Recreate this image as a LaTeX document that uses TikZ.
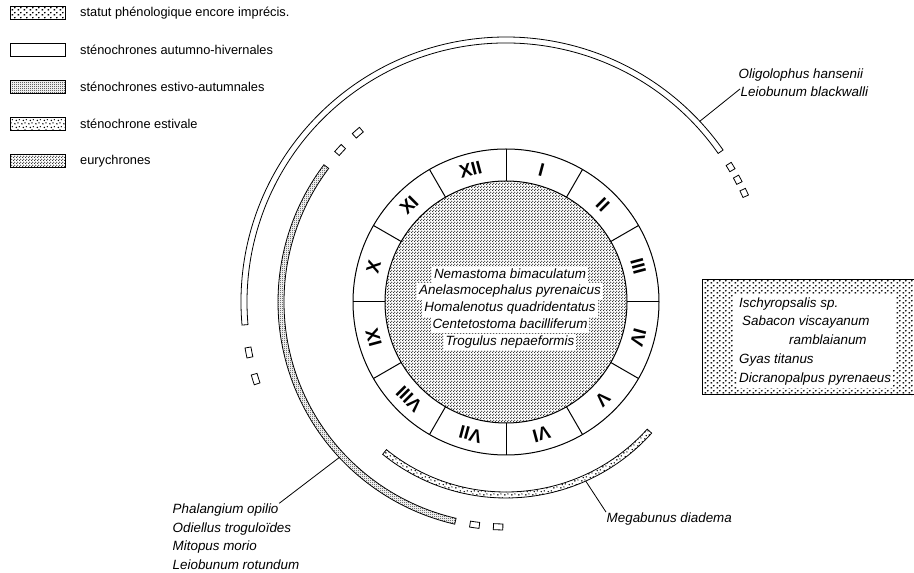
\documentclass[tikz,border=0pt]{standalone}
\usepackage{fontspec}
\setmainfont{Liberation Sans}
\usetikzlibrary{patterns}

\pgfdeclarepatternformonly{eurydots}{\pgfpointorigin}{\pgfpoint{2.6pt}{2.6pt}}{\pgfpoint{2.6pt}{2.6pt}}{%
  \pgfpathcircle{\pgfpoint{0.65pt}{0.65pt}}{0.72pt}%
  \pgfpathcircle{\pgfpoint{1.95pt}{1.95pt}}{0.72pt}%
  \pgfusepath{fill}}
\pgfdeclarepatternformonly{densedots}{\pgfpointorigin}{\pgfpoint{2pt}{2pt}}{\pgfpoint{2pt}{2pt}}{%
  \pgfpathcircle{\pgfpoint{0.5pt}{0.5pt}}{0.6pt}%
  \pgfpathcircle{\pgfpoint{1.5pt}{1.5pt}}{0.6pt}%
  \pgfusepath{fill}}
\pgfdeclarepatternformonly{sparsedots}{\pgfpointorigin}{\pgfpoint{7pt}{7pt}}{\pgfpoint{7pt}{7pt}}{%
  \pgfpathcircle{\pgfpoint{1pt}{1.3pt}}{0.9pt}%
  \pgfpathcircle{\pgfpoint{4.5pt}{2.3pt}}{0.8pt}%
  \pgfpathcircle{\pgfpoint{2.6pt}{5pt}}{0.9pt}%
  \pgfpathcircle{\pgfpoint{6pt}{5.8pt}}{0.8pt}%
  \pgfusepath{fill}}
\pgfdeclarepatternformonly{shortdashes}{\pgfpointorigin}{\pgfpoint{5.5pt}{4.6pt}}{\pgfpoint{5.5pt}{4.6pt}}{%
  \pgfsetlinewidth{1.3pt}%
  \pgfpathmoveto{\pgfpoint{0.7pt}{1pt}}\pgfpathlineto{\pgfpoint{2.3pt}{1.5pt}}%
  \pgfpathmoveto{\pgfpoint{3.4pt}{3.3pt}}\pgfpathlineto{\pgfpoint{4.9pt}{3.8pt}}%
  \pgfusepath{stroke}}

\tikzset{
  hiverband/.style={draw, line width=0.8pt, fill=white},
  estautband/.style={draw, line width=0.8pt, pattern=densedots, pattern color=black!85},
  estband/.style={draw, line width=0.8pt, pattern=sparsedots},
  eurycore/.style={draw, line width=1pt, pattern=eurydots, pattern color=black!85},
  legbox/.style={draw, line width=1pt, minimum width=55pt, minimum height=13pt, inner sep=0pt},
  legimprecis/.style={pattern=shortdashes},
  leghiver/.style={fill=white},
  legestaut/.style={pattern=densedots, pattern color=black!85},
  legest/.style={pattern=sparsedots},
  legeury/.style={pattern=eurydots, pattern color=black!85},
  legtext/.style={anchor=west, inner sep=0pt},
  species/.style={anchor=west, font=\itshape\fontsize{13.4}{16}\selectfont, inner sep=0.5pt},
  corelabel/.style={fill=white, font=\itshape\fontsize{13.4}{16}\selectfont, inner xsep=2pt, inner ysep=1.5pt, text height=10pt, text depth=3.4pt},
  boxlabel/.style={species, fill=white, inner xsep=2pt, inner ysep=2.4pt, text height=10pt, text depth=3.5pt},
  month/.style={font=\bfseries\fontsize{18.5}{20}\selectfont, inner sep=0pt},
  leader/.style={line width=0.8pt},
}

\begin{document}
\begin{tikzpicture}[x=1pt, y=1pt, every node/.style={font=\fontsize{12.8}{15}\selectfont}]
\useasboundingbox (0,0) rectangle (914,573);

% legend
\foreach \sty/\txt [count=\i] in {legimprecis/statut phénologique encore imprécis., leghiver/sténochrones autumno-hivernales, legestaut/sténochrones estivo-autumnales, legest/sténochrone estivale, legeury/eurychrones} {
  \node[legbox, \sty] (leg\i) at (37.5, 597-37*\i) {};
  \node[legtext] (legtxt\i) at (80, 597-37*\i) {\txt};
}

\begin{scope}[shift={(506,271)}]
  % bands of the seasons
  \foreach \ra/\rb/\sa/\ea/\sty in {259/265/35/185/hiverband, 259/265/190/192.2/hiverband, 259/265/196/198.2/hiverband,
      259/265/30.2/31.8/hiverband, 259/265/27/28.6/hiverband, 259/265/23.8/25.4/hiverband,
      222/228/143/257/estautband, 222/228/130/132.4/hiverband, 222/228/136.3/138.7/hiverband,
      222/228/260.8/263.2/hiverband, 222/228/266.8/269.2/hiverband,
      190/196/231/318/estband}
    \draw[\sty] (\sa:\ra) arc[start angle=\sa, end angle=\ea, radius=\ra] -- (\ea:\rb) arc[start angle=\ea, end angle=\sa, radius=\rb] -- cycle;
  % calendar ring
  \draw[eurycore] (0,0) circle[radius=121];
  \draw[line width=1pt] (0,0) circle[radius=153];
  \foreach \a in {0,30,...,330}
    \draw[line width=1pt] (\a:121) -- (\a:153);
  \foreach \m [count=\i] in {I,II,III,IV,V,VI,VII,VIII,IX,X,XI,XII} {
    \pgfmathsetmacro\ang{105-30*\i}
    \node[month, rotate=\ang-90] (m\m) at (\ang:137) {\m};
  }
  \foreach \t [count=\i] in {Nemastoma bimaculatum, Anelasmocephalus pyrenaicus, Homalenotus quadridentatus, Centetostoma bacilliferum, Trogulus nepaeformis}
    \node[corelabel] (core\i) at (4, 44-16.8*\i) {\t};
  \coordinate (hiver-pt) at (43:265);
  \coordinate (estaut-pt) at (223:228);
  \coordinate (est-pt) at (-66:196);
\end{scope}

% uncertain status
\draw[line width=1pt, pattern=shortdashes] (702,178) rectangle (925,293);
\fill[white] (733,203) rectangle (895,279);
\foreach \t/\x/\y [count=\i] in {Ischyropsalis sp./737/269, Sabacon viscayanum/740/251, ramblaianum/787/232, Gyas titanus/737/213, Dicranopalpus pyrenaeus/737/194}
  \node[boxlabel] (box\i) at (\x,\y) {\t};

% species labels with leaders
\node[species] (oligo) at (738,498) {Oligolophus hansenii};
\node[species] (blackw) at (740,481) {Leiobunum blackwalli};
\draw[leader] (hiver-pt) -- ([yshift=3pt]blackw.west);

\node[species] (megab) at (606,54) {Megabunus diadema};
\draw[leader] (est-pt) -- (megab.north west);

\foreach \t [count=\i] in {Phalangium opilio, Odiellus troguloïdes, Mitopus morio, Leiobunum rotundum}
  \node[species] (phal\i) at (172, 81-18.3*\i) {\t};
\draw[leader] (estaut-pt) -- (phal1.north east);
\end{tikzpicture}
\end{document}
